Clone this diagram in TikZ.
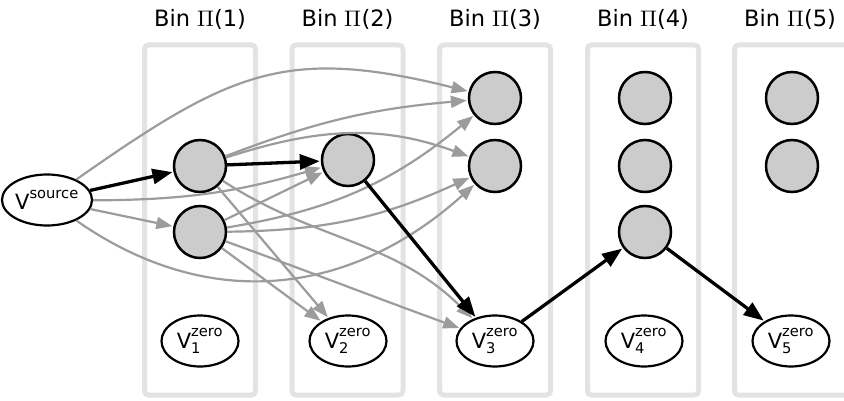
\documentclass[tikz,border=0pt]{standalone}
\usepackage{amsmath}
\usepackage{unicode-math}
\setmainfont{DejaVu Sans}
\usetikzlibrary{arrows.meta,shapes.geometric}

\newlength{\du}
\setlength{\du}{1pt}

\definecolor{bincolor}{rgb}{0.890000, 0.890000, 0.890000}
\definecolor{edgecolor}{rgb}{0.610000, 0.610000, 0.610000}
\definecolor{itemcolor}{rgb}{0.800000, 0.800000, 0.800000}

\newcommand{\vzero}[1]{$\text{V}^{\text{zero}}_{\text{#1}}$}
\newcommand{\vsource}{$\text{V}^{\text{source}}$}

\begin{document}
\begin{tikzpicture}[
  binbox/.style={draw=bincolor, line width=5\du, rounded corners=4\du},
  binlabel/.style={anchor=base, inner sep=0pt, font=\fontsize{22.5}{26}\selectfont},
  binitem/.style={circle, draw=black, fill=itemcolor, line width=2.5\du, minimum size=52\du, inner sep=0pt},
  vnode/.style={ellipse, draw=black, fill=white, line width=2.2\du, minimum width=77\du, minimum height=51\du, inner sep=0pt, font=\fontsize{21}{24}\selectfont},
  hop/.style={draw=black, line width=3.3\du, shorten >=1pt, -{Triangle[length=20pt,width=15pt]}},
  grayhop/.style={draw=edgecolor, line width=2.2\du, shorten >=1pt, -{Triangle[length=16pt,width=12pt]}}
]
\useasboundingbox (0\du,0\du) rectangle (844\du,400\du);
\clip (0\du,0\du) rectangle (844\du,400\du);
% bins (the last one runs off the right edge)
\foreach \i/\c/\r in {1/200/55.5,2/347.5/55.5,3/495/55.5,4/643/55.5,5/790/75}{
  \draw[binbox] ({\c\du-55.5\du},5\du) rectangle ({\c\du+\r\du},355\du);
  \node[binlabel] (bin\i) at (\c\du,373\du) {Bin $\Pi$(\i)};
}
% nodes
\node[vnode] (src) at (47\du,200\du) {\vsource};
\node[binitem] (a1) at (200\du,234\du) {};
\node[binitem] (a2) at (200\du,168\du) {};
\node[binitem] (b1) at (348\du,240\du) {};
\node[binitem] (c1) at (495\du,302\du) {};
\node[binitem] (c2) at (495\du,234\du) {};
\node[binitem] (d1) at (645\du,302\du) {};
\node[binitem] (d2) at (645\du,234\du) {};
\node[binitem] (d3) at (645\du,168\du) {};
\node[binitem] (e1) at (792\du,302\du) {};
\node[binitem] (e2) at (792\du,234\du) {};
\node[vnode] (z1) at (200\du,59\du) {\vzero{1}};
\node[vnode] (z2) at (348\du,59\du) {\vzero{2}};
\node[vnode] (z3) at (495\du,59\du) {\vzero{3}};
\node[vnode] (z4) at (644\du,59\du) {\vzero{4}};
\node[vnode] (z5) at (791\du,59\du) {\vzero{5}};
% gray edges
\draw[grayhop] (src) to[out=35,in=166,looseness=1.2] (c1);
\draw[grayhop] (src) to[bend right=8] (b1);
\draw[grayhop] (src) -- (a2);
\draw[grayhop] (src) to[out=-35,in=222,looseness=1.05] (c2);
\draw[grayhop] (a1) to[bend left=8] (c1);
\draw[grayhop] (a1) to[out=18,in=160] (c2);
\draw[grayhop] (a1) -- (z2);
\draw[grayhop] (a1) to[out=-33,in=135] (z3);
\draw[grayhop] (a2) -- (b1);
\draw[grayhop] (a2) to[bend right=15] (c1);
\draw[grayhop] (a2) to[bend right=12] (c2);
\draw[grayhop] (a2) -- (z2);
\draw[grayhop] (a2) to[out=-20,in=160] (z3);
% the path
\draw[hop] (src) -- (a1);
\draw[hop] (a1) -- (b1);
\draw[hop] (b1) -- (z3);
\draw[hop] (z3) -- (d3);
\draw[hop] (d3) -- (z5);
\end{tikzpicture}
\end{document}
